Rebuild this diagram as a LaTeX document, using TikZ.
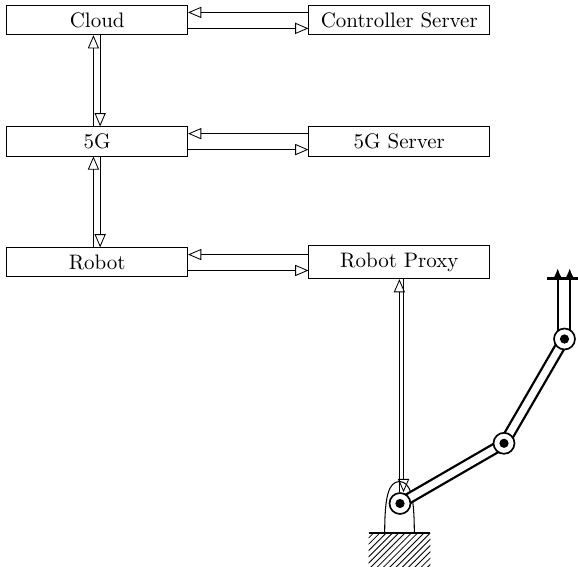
\documentclass[tikz,border=0pt]{standalone}
\usetikzlibrary{arrows.meta,patterns,backgrounds}
\begin{document}
\begin{tikzpicture}[x=0.477pt,y=-0.477pt,
  box/.style={draw, line width=0.4pt, minimum width=86.3pt, inner sep=3.33pt},
  arr/.style={line width=0.4pt, -{Triangle[open,length=6.3pt,width=5.3pt]}},
  joint/.style={circle, draw, fill=white, line width=0.8pt, minimum size=10pt, inner sep=0pt},
  link/.style={line width=1.1pt, double=white, double distance=3.4pt},
  finger/.style={line width=1.1pt, -{Latex[length=4.2pt,width=3.4pt]}}]
\useasboundingbox (0,0) rectangle (578,567);
% boxes
\node[box] (cloud) at (97.2,20.2) {Cloud};
\node[box] (cs) at (399.3,20.2) {Controller Server};
\node[box] (g) at (97.2,141.4) {5G};
\node[box] (gs) at (399.3,141.4) {5G Server};
\node[box] (robot) at (97.2,262.3) {Robot};
\node[box] (proxy) at (399.3,262.3) {Robot Proxy};
% horizontal arrows
\draw[arr] ([yshift=3.7pt]cs.west) -- ([yshift=3.7pt]cloud.east);
\draw[arr] ([yshift=-3.9pt]cloud.east) -- ([yshift=-3.9pt]cs.west);
\draw[arr] ([yshift=3.7pt]gs.west) -- ([yshift=3.7pt]g.east);
\draw[arr] ([yshift=-3.9pt]g.east) -- ([yshift=-3.9pt]gs.west);
\draw[arr] ([yshift=3.7pt]proxy.west) -- ([yshift=3.7pt]robot.east);
\draw[arr] ([yshift=-3.9pt]robot.east) -- ([yshift=-3.9pt]proxy.west);
% vertical arrows
\draw[arr] ([xshift=-1.8pt]g.north) -- ([xshift=-1.8pt]cloud.south);
\draw[arr] ([xshift=1.4pt]cloud.south) -- ([xshift=1.4pt]g.north);
\draw[arr] ([xshift=-1.8pt]robot.north) -- ([xshift=-1.8pt]g.south);
\draw[arr] ([xshift=1.4pt]g.south) -- ([xshift=1.4pt]robot.north);
% robot joints
\node[joint] (j0) at (400,503.5) {};
\node[joint] (j1) at (504,443.3) {};
\node[joint] (j2) at (564.5,339) {};
\foreach \j in {j0,j1,j2} \fill (\j.center) circle (2.2pt);
\begin{scope}[on background layer]
  % ground
  \fill[pattern=north east lines] (368.7,533) rectangle (430.3,566);
  \draw[line width=0.5pt] (368.7,533) -- (430.3,533);
  % pedestal
  \draw[line width=0.5pt] (384.7,533) .. controls (384.7,496) and (388.5,482) .. (399.5,481.5)
        .. controls (410.5,482) and (414.3,496) .. (414.3,533);
  % proxy link
  \draw[arr] ([xshift=-0.3pt]j0.north) -- ([xshift=-0.3pt]j0.north |- proxy.south);
  \draw[arr] ([xshift=1.7pt]j0.north |- proxy.south) -- ([xshift=1.7pt]j0.north);
  % arm links
  \draw[link] (j0.center) -- (j1.center);
  \draw[link] (j1.center) -- (j2.center);
  % gripper
  \coordinate (gl) at (557.7,268);
  \coordinate (gr) at (569.7,268);
  \coordinate (bl) at (547,278.3);
  \coordinate (br) at (583,278.3);
  \draw[line width=1.4pt] (bl) -- (br);
  \draw[finger] (j2.center -| gl) -- (gl);
  \draw[finger] (j2.center -| gr) -- (gr);
\end{scope}
\end{tikzpicture}
\end{document}
